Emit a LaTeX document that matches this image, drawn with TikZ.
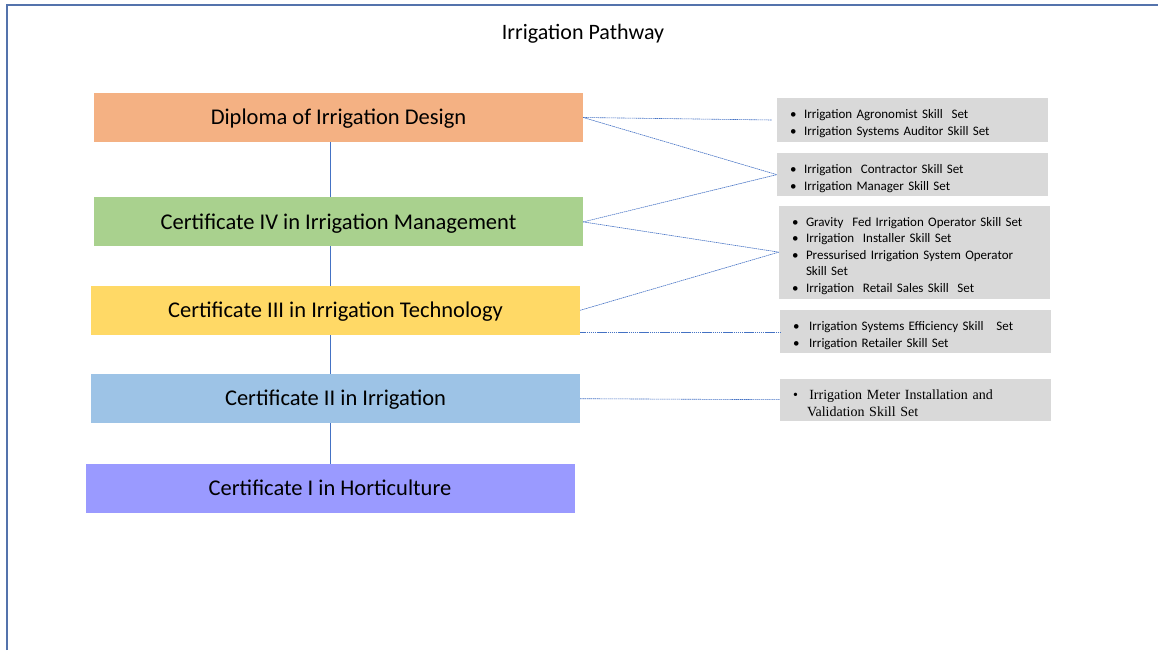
\documentclass[tikz,border=0pt]{standalone}
\usepackage{fontspec}
\setmainfont{Carlito}
\newfontfamily\tms{Liberation Serif}
\usepackage{tikz}
\usetikzlibrary{positioning, backgrounds}
\definecolor{qorange}{HTML}{F4B183}
\definecolor{qgreen}{HTML}{A9D18E}
\definecolor{qyellow}{HTML}{FFD966}
\definecolor{qblue}{HTML}{9DC3E6}
\definecolor{qpurple}{HTML}{9A9AFF}
\definecolor{skgray}{HTML}{D9D9D9}
\definecolor{lnblue}{HTML}{4472C4}
\definecolor{frblue}{HTML}{5473AC}
\tikzstyle{qual}=[%
      rectangle, draw=none, minimum width=489pt, minimum height=49pt, inner sep=0pt,
      text height=14.5pt, text depth=0pt, font=\fontsize{22.5}{27}\selectfont
]
\tikzstyle{skill}=[%
      rectangle, draw=none, fill=skgray, minimum width=271pt, inner xsep=13pt, inner ysep=4pt,
      text width=245pt, align=left, font=\fontsize{13}{16.5}\selectfont
]
\tikzstyle{lk}=[%
      draw=lnblue, line width=0.6pt, dash pattern=on 1.5pt off 0.6pt
]
\newcommand{\sk}[1]{\par\noindent\hangindent=14pt\hangafter=1\makebox[14pt][l]{\textbullet}#1\par}

\begin{document}
\begin{tikzpicture}[x=1pt, y=-1pt]
    \useasboundingbox (0,0) rectangle (1158,650);
    \draw[frblue, line width=1.5pt] (7,650) -- (7,5) -- (1158,5);

    \node (ttl) at (583,34) {\fontsize{22}{26}\selectfont Irrigation Pathway};

    \node[qual, fill=qorange] (d) at (338.5,117.5) {Diploma of Irrigation Design};
    \node[qual, fill=qgreen] (c4) [below=55pt of d] {Certificate IV in Irrigation Management};
    \node[qual, fill=qyellow] (c3) [below=39pt of c4, xshift=-3pt] {Certificate III in Irrigation Technology};
    \node[qual, fill=qblue] (c2) [below=39pt of c3] {Certificate II in Irrigation};
    \node[qual, fill=qpurple] (c1) [below=40pt of c2, xshift=-5.5pt] {Certificate I in Horticulture};

    \node[skill, minimum height=42pt] (s1) at (912.5,120)
        {\sk{Irrigation Agronomist Skill\ \ Set}\sk{Irrigation Systems Auditor Skill Set}};
    \node[skill, minimum height=42pt] (s2) [below=11pt of s1]
        {\sk{Irrigation\ \ Contractor Skill Set}\sk{Irrigation Manager Skill Set}};
    \node[skill, minimum height=93pt] (s3) [below=9pt of s2, xshift=2pt]
        {\sk{Gravity\ \ Fed Irrigation Operator Skill Set}\sk{Irrigation\ \ Installer Skill Set}%
         \sk{Pressurised Irrigation System Operator\newline Skill Set}\sk{Irrigation\ \ Retail Sales Skill\ \ Set}};
    \node[skill, minimum height=43pt, xshift=1pt] (s4) [below=11pt of s3]
        {\sk{\,Irrigation Systems Efficiency Skill\ \ \ Set}\sk{\,Irrigation Retailer Skill Set}};
    \node[skill, minimum height=42pt, font=\fontsize{14}{16.5}\tms] (s5) [below=25pt of s4]
        {\sk{\,Irrigation Meter Installation and\newline\,Validation Skill Set}};

    \begin{scope}[on background layer]
      \draw[lnblue, line width=0.7pt] (c1.south) -- (c1.south |- d.south);
    \end{scope}

    \draw[lk] (d.east) -- ([xshift=-5pt]s1.west);
    \draw[lk] (d.east) -- (s2.west);
    \draw[lk] (c4.east) -- (s2.west);
    \draw[lk] (c4.east) -- (s3.west);
    \draw[lk] (c3.east) -- (s3.west);
    \draw[lk] ([yshift=-1pt]c3.east |- s4.west) -- ([yshift=-1pt]s4.west);
    \draw[lk] (c2.east) -- (s5.west);
\end{tikzpicture}
\end{document}
